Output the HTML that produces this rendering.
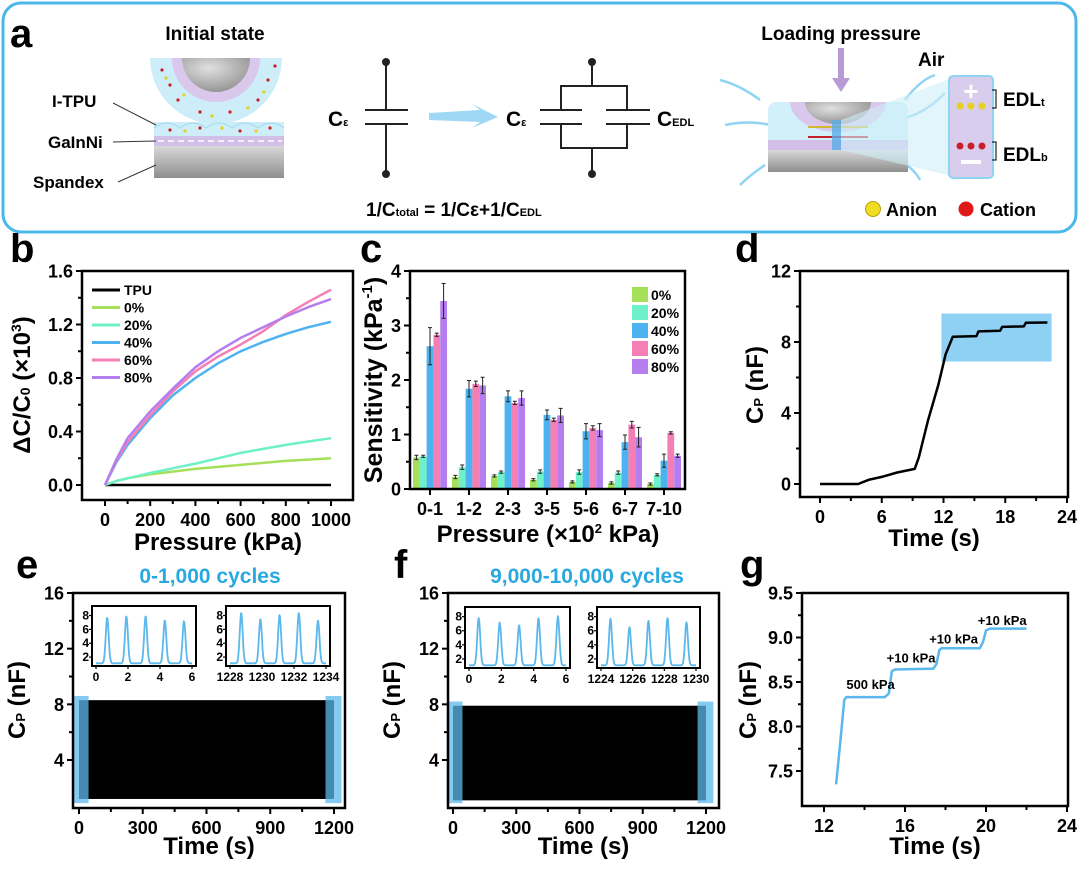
<!DOCTYPE html>
<html><head><meta charset="utf-8"><style>
html,body{margin:0;padding:0;background:#fff;}
svg{display:block;font-family:"Liberation Sans",sans-serif;font-weight:bold;}
</style></head><body>
<svg id="fig" width="1080" height="869" viewBox="0 0 1080 869" xmlns="http://www.w3.org/2000/svg">
<defs>
<linearGradient id="grey" x1="0" y1="0" x2="0" y2="1"><stop offset="0" stop-color="#d8d8d8"/><stop offset="1" stop-color="#8e8e8e"/></linearGradient>
<radialGradient id="ball" cx="0.4" cy="0.3" r="0.8"><stop offset="0" stop-color="#e0e0e0"/><stop offset="1" stop-color="#8a8a8a"/></radialGradient>
</defs>
<!-- Panel a -->
<g>
<rect x="3" y="3" width="1073" height="229" rx="18" fill="none" stroke="#4cb8ea" stroke-width="3"/>
<text x="10" y="47" font-size="40">a</text>
<text x="215" y="40" font-size="19" text-anchor="middle">Initial state</text>
<g>
<path d="M150,58 A66,66 0 0 0 282,58 Z" fill="#cdeef8"/>
<path d="M172,58 A44,44 0 0 0 260,58 Z" fill="#d9c8ec"/>
<path d="M182,58 A34,34 0 0 0 250,58 Z" fill="url(#ball)"/>
<rect x="154" y="122" width="130" height="14" fill="#cdeef8"/>
<path d="M154,128 q13,-10 26,0 q13,-10 26,0 q13,-10 26,0 q13,-10 26,0 q13,-10 26,0" fill="none" stroke="#9fd8ee" stroke-width="1"/>
<rect x="154" y="136" width="130" height="10" fill="#d2bfe8"/>
<line x1="158" y1="141" x2="282" y2="141" stroke="#fff" stroke-width="1.5" stroke-dasharray="6,4"/>
<rect x="154" y="146" width="130" height="32" fill="url(#grey)"/>
<g fill="#c8202a"><circle cx="162" cy="70" r="1.6"/><circle cx="170" cy="85" r="1.6"/><circle cx="178" cy="100" r="1.6"/><circle cx="200" cy="112" r="1.6"/><circle cx="230" cy="112" r="1.6"/><circle cx="258" cy="100" r="1.6"/><circle cx="268" cy="80" r="1.6"/><circle cx="275" cy="66" r="1.6"/><circle cx="170" cy="130" r="1.6"/><circle cx="200" cy="128" r="1.6"/><circle cx="240" cy="131" r="1.6"/><circle cx="270" cy="128" r="1.6"/></g>
<g fill="#e8d020"><circle cx="166" cy="78" r="1.6"/><circle cx="184" cy="95" r="1.6"/><circle cx="212" cy="116" r="1.6"/><circle cx="248" cy="108" r="1.6"/><circle cx="264" cy="92" r="1.6"/><circle cx="185" cy="131" r="1.6"/><circle cx="222" cy="128" r="1.6"/><circle cx="256" cy="131" r="1.6"/></g>
</g>
<text x="52" y="107" font-size="17">I-TPU</text>
<line x1="113" y1="103" x2="156" y2="125" stroke="#333" stroke-width="1"/>
<text x="48" y="148" font-size="17">GaInNi</text>
<line x1="113" y1="142" x2="156" y2="141" stroke="#333" stroke-width="1"/>
<text x="33" y="188" font-size="17">Spandex</text>
<line x1="118" y1="182" x2="156" y2="165" stroke="#333" stroke-width="1"/>
<g stroke="#222" stroke-width="2" fill="none">
<line x1="386" y1="62" x2="386" y2="110"/><line x1="386" y1="124" x2="386" y2="174"/>
<line x1="365" y1="110" x2="408" y2="110"/><line x1="365" y1="124" x2="408" y2="124"/>
</g>
<circle cx="386" cy="62" r="4" fill="#222"/><circle cx="386" cy="174" r="4" fill="#222"/>
<text x="328" y="126" font-size="21">C<tspan font-size="11">ε</tspan></text>
<path d="M429,113 L480,110 L472,104 L498,117 L472,128 L480,122 L429,120 Z" fill="#9fd8f4"/>
<g stroke="#222" stroke-width="2" fill="none">
<line x1="592" y1="62" x2="592" y2="86"/><line x1="592" y1="148" x2="592" y2="174"/>
<polyline points="561,110 561,86 627,86 627,110"/><polyline points="561,124 561,148 627,148 627,124"/>
<line x1="540" y1="110" x2="582" y2="110"/><line x1="540" y1="124" x2="582" y2="124"/>
<line x1="606" y1="110" x2="650" y2="110"/><line x1="606" y1="124" x2="650" y2="124"/>
</g>
<circle cx="592" cy="62" r="4" fill="#222"/><circle cx="592" cy="174" r="4" fill="#222"/>
<text x="506" y="126" font-size="21">C<tspan font-size="11">ε</tspan></text>
<text x="657" y="126" font-size="21">C<tspan font-size="11">EDL</tspan></text>
<text x="366" y="216" font-size="19">1/C<tspan font-size="11">total</tspan> = 1/Cε+1/C<tspan font-size="11">EDL</tspan></text>
<text x="841" y="40" font-size="19" text-anchor="middle">Loading pressure</text>
<path d="M838,48 L844,48 L844,78 L850,78 L841,92 L832,78 L838,78 Z" fill="#b79ad6"/>
<text x="918" y="66" font-size="19">Air</text>
<g>
<path d="M720,80 q20,5 40,20 M725,125 q25,-5 45,0 M765,165 q-15,10 -25,20 M905,100 q15,-20 30,-25 M900,160 q15,10 20,20 M905,118 q20,-5 40,-25" stroke="#8fd4f2" stroke-width="2.5" fill="none"/>
<rect x="768" y="102" width="140" height="45" rx="8" fill="#cdeef8" opacity="0.9"/>
<path d="M790,102 A48,30 0 0 0 886,102 Z" fill="#d9c8ec"/>
<path d="M805,102 A33,22 0 0 0 871,102 Z" fill="url(#ball)"/>
<line x1="808" y1="127" x2="868" y2="127" stroke="#d2b830" stroke-width="2"/>
<line x1="808" y1="137" x2="868" y2="137" stroke="#c8202a" stroke-width="2"/>
<rect x="768" y="140" width="140" height="10" fill="#d2bfe8"/>
<rect x="768" y="150" width="140" height="22" fill="url(#grey)"/>
<rect x="832" y="120" width="9" height="30" fill="#5aaee6" opacity="0.8"/>
<path d="M841,120 L952,78 L952,176 L841,150 Z" fill="#cdeef8" opacity="0.6"/>
<rect x="949" y="76" width="44" height="102" rx="4" fill="#d9cdee" stroke="#8fd4f2" stroke-width="2"/>
<text x="971" y="100" font-size="26" fill="#fff" text-anchor="middle">+</text>
<circle cx="960" cy="106" r="3.5" fill="#e8d020"/><circle cx="971" cy="106" r="3.5" fill="#e8d020"/><circle cx="982" cy="106" r="3.5" fill="#e8d020"/>
<circle cx="960" cy="146" r="3.5" fill="#c8202a"/><circle cx="971" cy="146" r="3.5" fill="#c8202a"/><circle cx="982" cy="146" r="3.5" fill="#c8202a"/>
<rect x="961" y="160" width="20" height="4" fill="#fff"/>
</g>
<path d="M992,90 h4 v18 h-4" fill="none" stroke="#222" stroke-width="1.2"/>
<text x="1003" y="106" font-size="19">EDL<tspan font-size="11">t</tspan></text>
<path d="M992,142 h4 v18 h-4" fill="none" stroke="#222" stroke-width="1.2"/>
<text x="1003" y="161" font-size="19">EDL<tspan font-size="11">b</tspan></text>
<circle cx="873" cy="209" r="7.5" fill="#f0dc20" stroke="#b8a010" stroke-width="1"/>
<text x="886" y="216" font-size="18">Anion</text>
<circle cx="966" cy="209" r="7.5" fill="#e01818"/>
<text x="980" y="216" font-size="18">Cation</text>
</g>
<g id="charts"></g>
</svg>
<script>
// ---------- DATA ----------
// panel b
const bPressure = [0,50,100,200,300,400,500,600,700,800,900,1000];
const bTPU   = [0,0,0,0,0,0,0,0,0,0,0,0];
const b0     = [0,0.03,0.05,0.08,0.10,0.12,0.135,0.15,0.165,0.18,0.19,0.20];
const b20    = [0,0.03,0.05,0.09,0.125,0.16,0.20,0.24,0.27,0.30,0.325,0.35];
const b40    = [0,0.17,0.30,0.50,0.67,0.80,0.91,1.00,1.07,1.13,1.18,1.22];
const b60    = [0,0.18,0.32,0.52,0.70,0.85,0.96,1.05,1.15,1.27,1.37,1.46];
const b80    = [0,0.19,0.35,0.55,0.72,0.88,1.00,1.10,1.18,1.26,1.33,1.39];
const bSeriesNames = ['TPU','  0%','20%','40%','60%','80%'];
const bYTicks = [0,0.4,0.8,1.2,1.6];
const bXTicks = [0,200,400,600,800,1000];
// panel c
const cCategories = ['0-1','1-2','2-3','3-5','5-6','6-7','7-10'];
const cVal0  = [0.58,0.22,0.24,0.17,0.13,0.11,0.09];
const cVal20 = [0.60,0.40,0.31,0.32,0.31,0.30,0.26];
const cVal40 = [2.62,1.84,1.70,1.36,1.06,0.86,0.52];
const cVal60 = [2.83,1.93,1.58,1.27,1.12,1.18,1.03];
const cVal80 = [3.45,1.90,1.67,1.35,1.08,0.95,0.61];
const cErr0  = [0.04,0.03,0.02,0.02,0.02,0.02,0.02];
const cErr20 = [0.02,0.04,0.02,0.03,0.04,0.03,0.02];
const cErr40 = [0.34,0.15,0.10,0.09,0.14,0.13,0.12];
const cErr60 = [0.03,0.05,0.03,0.03,0.04,0.06,0.02];
const cErr80 = [0.32,0.15,0.13,0.13,0.12,0.18,0.03];
const cLegend = ['0%','20%','40%','60%','80%'];
const cYTicks = [0,1,2,3,4];
// panel d
const dTime = [0,3.7,4.8,6,7.5,9.2,9.6,10.5,11.5,12.2,12.9,15.2,15.4,17.5,17.7,19.8,20.0,22.1];
const dCap  = [0,0,0.25,0.4,0.65,0.85,1.5,3.6,5.6,7.3,8.3,8.33,8.6,8.63,8.85,8.88,9.08,9.1];
const dXTicks = [0,6,12,18,24];
const dYTicks = [0,4,8,12];
const dHighlight = [11.8,22.5,6.9,9.6];
// panel e / f
const eXTicks = [0,300,600,900,1200];
const eYTicks = [4,8,12,16];
const eEnvelope = [8.3,1.2];
const fEnvelope = [7.9,1.1];
const eInset1Peaks = [0.7,1.9,3.1,4.3,5.5];
const eInset1Heights = [7.7,7.9,7.9,7.3,7.2];
const eInset2Peaks = [1228.7,1229.9,1231.1,1232.3,1233.5];
const eInset2Heights = [8.4,7.5,8.1,8.4,7.3];
const fInset1Peaks = [0.6,1.9,3.1,4.3,5.5];
const fInset1Heights = [7.8,7.2,6.8,7.8,8.1];
const fInset2Peaks = [1224.6,1225.8,1227.0,1228.2,1229.4];
const fInset2Heights = [7.7,6.5,7.4,7.8,7.2];
// panel g
const gTime = [12.6,12.75,13.0,13.1,15.0,15.2,15.35,15.5,17.4,17.55,17.7,17.8,19.7,19.85,20.0,20.2,22.0];
const gCap  = [7.35,7.7,8.3,8.33,8.33,8.37,8.62,8.64,8.65,8.7,8.86,8.88,8.88,8.95,9.08,9.1,9.1];
const gXTicks = [12,16,20,24];
const gYTicks = [7.5,8.0,8.5,9.0,9.5];
const gNotes = ['500 kPa','+10 kPa','+10 kPa','+10 kPa'];
const gNoteT = [14.3,16.3,18.4,20.8];
const gNoteV = [8.42,8.72,8.93,9.14];

// ---------- DRAWING ----------
const NS='http://www.w3.org/2000/svg';
const root=document.getElementById('charts');
const COLORS=['#000','#a6e05a','#6ef0c8','#4db3f0','#f47fb5','#b57ef0'];
const TICK=18;
function mk(tag,attrs,parent){const e=document.createElementNS(NS,tag);for(const k in attrs)e.setAttribute(k,attrs[k]);(parent||root).appendChild(e);return e;}
function txt(s,x,y,size,anchor,parent,fill){const t=mk('text',{x:x,y:y,'font-size':size,'text-anchor':anchor||'middle',fill:fill||'#000'},parent);t.textContent=s;return t;}
function box(g,x0,x1,y0,y1,name){const r=mk('rect',{x:x0,y:y0,width:x1-x0,height:y1-y0,fill:'none',stroke:'#000','stroke-width':2.5},g);

}
function xticks(g,ticks,sx,yb,fmt,size,name,minor){const gg=mk('g',{},g);


ticks.forEach((v,i)=>{mk('line',{x1:sx(v),x2:sx(v),y1:yb,y2:yb+6,stroke:'#000','stroke-width':2},gg);txt(fmt?fmt(v):String(v),sx(v),yb+(size+8),size,'middle',gg);
if(minor&&i<ticks.length-1){const m=(v+ticks[i+1])/2;mk('line',{x1:sx(m),x2:sx(m),y1:yb,y2:yb+4,stroke:'#000','stroke-width':2},gg);}});}
function yticks(g,ticks,sy,xl,fmt,size,name){const gg=mk('g',{},g);


ticks.forEach((v,i)=>{mk('line',{x1:xl-6,x2:xl,y1:sy(v),y2:sy(v),stroke:'#000','stroke-width':2},gg);txt(fmt?fmt(v):String(v),xl-9,sy(v)+size*0.36,size,'end',gg);
if(i<ticks.length-1){const m=(v+ticks[i+1])/2;mk('line',{x1:xl-4,x2:xl,y1:sy(m),y2:sy(m),stroke:'#000','stroke-width':2},gg);}});}
function ytitle(g,x,y,name,build){const t=mk('text',{x:0,y:0,'font-size':24,'text-anchor':'middle',transform:`translate(${x},${y}) rotate(-90)`},g);


build(t);return t;}
function span(t,s,attrs){const sp=mk('tspan',attrs||{},t);sp.textContent=s;return sp;}
function poly(g,xs,ys,sx,sy,color,w,name){const pts=xs.map((v,i)=>sx(v).toFixed(1)+','+sy(ys[i]).toFixed(1)).join(' ');const p=mk('polyline',{points:pts,fill:'none',stroke:color,'stroke-width':w,'stroke-linejoin':'round'},g);


return p;}
function label(s,x,y,name){const t=txt(s,x,y,40,'start');

}

// ----- Panel b -----
(function(){
const g=mk('g',{});


label('b',10,262,'panel-label-b');
const sx=v=>105+v*226/1000, sy=v=>485-v*214/1.6;
const series=[bTPU,b0,b20,b40,b60,b80];
series.forEach((s,i)=>poly(g,bPressure,s,sx,sy,COLORS[i],2.5,'line-'+(i===0?'tpu':cLegend[i-1].replace('%','pct'))));
box(g,82,353,271,500,'plot-area-b');
xticks(g,bXTicks,sx,500,null,TICK,'x-axis-b',true);
yticks(g,bYTicks,sy,82,v=>v.toFixed(1),TICK,'y-axis-b');
const xt=txt('Pressure (kPa)',218,550,24,'middle',g);


ytitle(g,30,385,'y-axis-title-b',t=>{span(t,'ΔC/C');span(t,'0',{'font-size':14});span(t,' (×10');span(t,'3',{'font-size':14,dy:-9});span(t,')',{dy:9});});
bSeriesNames.forEach((n,i)=>{const y=290+i*17.5;const lg=mk('g',{},g);


mk('line',{x1:92,x2:120,y1:y,y2:y,stroke:COLORS[i],'stroke-width':3},lg);
const t=txt(n,124,y+5,14,'start',lg);t.setAttribute('xml:space','preserve');});
})();

// ----- Panel c -----
(function(){
const g=mk('g',{});


label('c',360,262,'panel-label-c');
const sy=v=>489-v*218/4, cx=i=>430+i*39, bw=6.8;
const vals=[cVal0,cVal20,cVal40,cVal60,cVal80], errs=[cErr0,cErr20,cErr40,cErr60,cErr80];
vals.forEach((arr,s)=>{arr.forEach((v,i)=>{const x=cx(i)+(s-2)*bw-bw/2;
const r=mk('rect',{x:x,y:sy(v),width:bw,height:sy(0)-sy(v),fill:COLORS[s+1]},g);


const e=errs[s][i], xm=x+bw/2;
mk('path',{d:`M${xm},${sy(v+e)}V${sy(v-e)}M${xm-2},${sy(v+e)}h4M${xm-2},${sy(v-e)}h4`,stroke:'#222','stroke-width':1,fill:'none'},g);});});
box(g,410,685,271,489,'plot-area-c');
const xa=mk('g',{},g);


cCategories.forEach((c,i)=>{mk('line',{x1:cx(i),x2:cx(i),y1:489,y2:495,stroke:'#000','stroke-width':2},xa);txt(c,cx(i),515,TICK,'middle',xa);});
yticks(g,cYTicks,sy,410,null,TICK,'y-axis-c');
const xt=txt('',548,542,24,'middle',g);


span(xt,'Pressure (×10');span(xt,'2',{'font-size':13,dy:-9});span(xt,' kPa)',{dy:9});
ytitle(g,382,380,'y-axis-title-c',t=>{t.setAttribute('font-size','25');span(t,'Sensitivity (kPa');span(t,'-1',{'font-size':15,dy:-10});span(t,')',{dy:10});});
cLegend.forEach((n,i)=>{const y=295+i*18;const lg=mk('g',{},g);


mk('rect',{x:632,y:y-8,width:16,height:15,fill:COLORS[i+1]},lg);txt(n,651,y+5,14,'start',lg);});
})();

// ----- Panel d -----
(function(){
const g=mk('g',{});


label('d',735,262,'panel-label-d');
const sx=v=>820+v*247/24, sy=v=>484-v*213/12;
const h=mk('rect',{x:sx(dHighlight[0]),y:sy(dHighlight[3]),width:sx(dHighlight[1])-sx(dHighlight[0]),height:sy(dHighlight[2])-sy(dHighlight[3]),fill:'#8fd0f5'},g);


poly(g,dTime,dCap,sx,sy,'#000',2.5,'capacitance-line-d');
box(g,800,1068,271,497,'plot-area-d');
xticks(g,dXTicks,sx,497,null,TICK,'x-axis-d',true);
yticks(g,dYTicks,sy,800,null,TICK,'y-axis-d');
const xt=txt('Time (s)',934,546,24,'middle',g);


ytitle(g,763,385,'y-axis-title-d',t=>{span(t,'C');span(t,'P',{'font-size':13});span(t,' (nF)');});
})();

// ----- Panels e & f -----
function cyclePanel(P){
const g=mk('g',{});


label(P.id,P.labelX,578,'panel-label-'+P.id);
const tt=txt(P.title,P.titleX,583,21,'middle',g,'#29a9e0');


const sx=v=>P.x0+v*(P.x1-P.x0)/1200, sy=v=>593+(16-v)*167/12;
const band=mk('rect',{x:sx(0),y:sy(P.env[0]),width:sx(1200)-sx(0),height:sy(P.env[1])-sy(P.env[0]),fill:'#000'},g);


[[-30,45],[1160,1235]].forEach((r,i)=>{const c=mk('rect',{x:sx(r[0]),y:sy(P.env[0]+0.3),width:sx(r[1])-sx(r[0]),height:sy(0.9)-sy(P.env[0]+0.3),fill:'#5bb8ec',opacity:0.75},g);

});
box(g,P.bx0,P.bx1,593,808,'plot-area-'+P.id);
xticks(g,eXTicks,sx,808,null,TICK,'x-axis-'+P.id,true);
yticks(g,eYTicks,sy,P.bx0,null,TICK,'y-axis-'+P.id);
const xt=txt('Time (s)',(P.bx0+P.bx1)/2,854,24,'middle',g);


ytitle(g,P.bx0-48,700,'y-axis-title-'+P.id,t=>{span(t,'C');span(t,'P',{'font-size':13});span(t,' (nF)');});
P.insets.forEach((ins,k)=>{
const ig=mk('g',{},g);


const ix=v=>ins.x0+4+(v-ins.t0)*(ins.x1-ins.x0-8)/6, iy=v=>ins.y1-2-(v-1)*(ins.y1-ins.y0-6)/7.8;
const ts=[],vs=[];
for(let t=ins.t0;t<=ins.t0+6.0001;t+=0.03){let v=1.1;ins.peaks.forEach((p,j)=>{v+= (ins.heights[j]-1.1)*Math.exp(-Math.pow((t-p)/0.13,2));});ts.push(t);vs.push(v);}
poly(ig,ts,vs,ix,iy,'#5bb8ec',1.8,'inset-line-'+P.id+'-'+(k+1));
mk('rect',{x:ins.x0,y:ins.y0,width:ins.x1-ins.x0,height:ins.y1-ins.y0,fill:'none',stroke:'#000','stroke-width':2},ig);
[2,4,6,8].forEach(v=>{mk('line',{x1:ins.x0-3,x2:ins.x0,y1:iy(v),y2:iy(v),stroke:'#000','stroke-width':1.2},ig);txt(String(v),ins.x0-3,iy(v)+4,12,'end',ig);});
[0,2,4,6].forEach(d=>{mk('line',{x1:ix(ins.t0+d),x2:ix(ins.t0+d),y1:ins.y1,y2:ins.y1+3,stroke:'#000','stroke-width':1.2},ig);txt(String(ins.t0+d),ix(ins.t0+d),ins.y1+15,12,'middle',ig);});
});
}
cyclePanel({id:'e',labelX:16,title:'0-1,000 cycles',titleX:210,x0:79,x1:334,bx0:73,bx1:345,env:eEnvelope,
insets:[{x0:92,x1:196,y0:606,y1:666,t0:0,peaks:eInset1Peaks,heights:eInset1Heights},{x0:226,x1:330,y0:606,y1:666,t0:1228,peaks:eInset2Peaks,heights:eInset2Heights}]});
cyclePanel({id:'f',labelX:394,title:'9,000-10,000 cycles',titleX:587,x0:453,x1:706,bx0:448,bx1:719,env:fEnvelope,
insets:[{x0:465,x1:570,y0:607,y1:668,t0:0,peaks:fInset1Peaks,heights:fInset1Heights},{x0:597,x1:700,y0:607,y1:668,t0:1224,peaks:fInset2Peaks,heights:fInset2Heights}]});

// ----- Panel g -----
(function(){
const g=mk('g',{});


label('g',740,578,'panel-label-g');
const sx=v=>824+(v-12)*243/12, sy=v=>593+(9.5-v)*178/2;
poly(g,gTime,gCap,sx,sy,'#5bb8ec',2.5,'capacitance-line-g');
box(g,802,1068,593,806,'plot-area-g');
xticks(g,gXTicks,sx,806,null,TICK,'x-axis-g',true);
yticks(g,gYTicks,sy,802,v=>v.toFixed(1),TICK,'y-axis-g');
const xt=txt('Time (s)',935,854,24,'middle',g);


ytitle(g,756,700,'y-axis-title-g',t=>{span(t,'C');span(t,'P',{'font-size':13});span(t,' (nF)');});
gNotes.forEach((n,i)=>{const t=txt(n,sx(gNoteT[i]),sy(gNoteV[i]),13,'middle',g);

});
})();
</script>
</body></html>
